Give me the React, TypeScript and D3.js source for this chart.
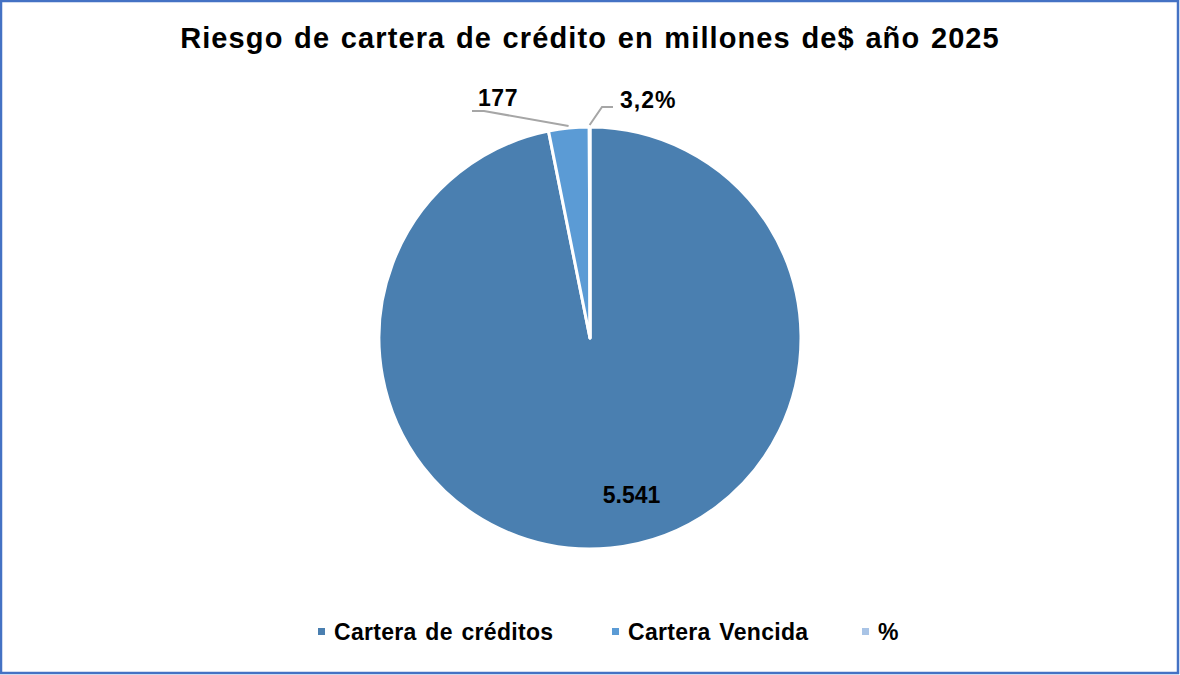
import React, { useEffect, useRef } from 'react';
import * as d3 from 'd3';

// Chart data
const categories = ['Cartera de créditos', 'Cartera Vencida', '%'];
const values = [5541, 177, 3.2];
const valueLabels = ['5.541', '177', '3,2%'];
const colors = ['#4a7fb0', '#5b9bd5', '#a9c4e6'];
const title = 'Riesgo de cartera de crédito en millones de$ año 2025';

const W = 1180;
const H = 675;

export default function App() {
  const ref = useRef<SVGSVGElement>(null);

  useEffect(() => {
    if (!ref.current) return;
    const svg = d3.select(ref.current);
    svg.selectAll('*').remove();

    const font = '"Liberation Sans", Arial, sans-serif';

    // Frame
    svg.append('rect')
      .attr('x', 1).attr('y', 1)
      .attr('width', W - 3).attr('height', H - 3)
      .attr('fill', '#fff')
      .attr('stroke', '#4472c4')
      .attr('stroke-width', 2.5);

    // Title
    svg.append('text')
      .attr('x', 590).attr('y', 48)
      .attr('text-anchor', 'middle')
      .style('font-family', font)
      .style('font-size', '29px')
      .style('font-weight', 'bold')
      .style('letter-spacing', '1.1px')
      .style('word-spacing', '1.5px')
      .text(title);

    const cx = 590, cy = 338, radius = 211;
    const g = svg.append('g').attr('transform', `translate(${cx},${cy})`);

    const data = categories.map((name, i) => ({ name, value: values[i], label: valueLabels[i], color: colors[i] }));
    const pie = d3.pie<any>().value(d => d.value).sort(null);
    const arcs = pie(data);

    const arc = d3.arc<any>().innerRadius(0).outerRadius(radius);

    g.selectAll('path.slice')
      .data(arcs)
      .enter()
      .append('path')
      .attr('class', 'slice')
      .attr('d', arc)
      .attr('fill', d => d.data.color)
      .attr('stroke', '#fff')
      .attr('stroke-width', 3)
      .attr('stroke-linejoin', 'round');

    const mid = (d: any) => (d.startAngle + d.endAngle) / 2;
    const pt = (a: number, r: number): [number, number] => [Math.sin(a) * r, -Math.cos(a) * r];

    // Inside label for the large slice
    const big = arcs[0];
    const [bx, by] = pt(mid(big) - 0.16, radius * 0.77);
    g.append('text')
      .attr('x', bx).attr('y', by)
      .attr('text-anchor', 'middle')
      .attr('dy', '0.35em')
      .style('font-family', font)
      .style('font-size', '23px')
      .style('font-weight', 'bold')
      .text(big.data.label);

    // Outside labels with leader lines
    const outside = [
      { d: arcs[1], side: -1, elbow: [-118, -227], end: [-106, -227], text: [-92, -232] },
      { d: arcs[2], side: 1, elbow: [12, -231], end: [23, -231], text: [30, -230] },
    ];
    outside.forEach(o => {
      const start = pt(mid(o.d), radius + 2);
      const pts = o.side < 0 ? [start, o.end, o.elbow] : [start, o.elbow, o.end];
      g.append('polyline')
        .attr('points', pts.map(p => p.join(',')).join(' '))
        .attr('fill', 'none')
        .attr('stroke', '#a6a6a6')
        .attr('stroke-width', 2);
      g.append('text')
        .attr('x', o.text[0]).attr('y', o.text[1])
        .attr('text-anchor', o.side < 0 ? 'middle' : 'start')
        .style('font-family', font)
        .style('font-size', '23px')
        .style('font-weight', 'bold')
        .style('letter-spacing', o.side < 0 ? '0.5px' : '1px')
        .text(o.d.data.label);
    });

    // Legend
    const legend = svg.append('g');
    const starts = [318, 612, 862];
    data.forEach((d, i) => {
      const item = legend.append('g').attr('transform', `translate(${starts[i]},640)`);
      item.append('rect')
        .attr('x', 0).attr('y', -12)
        .attr('width', 7).attr('height', 7)
        .attr('fill', d.color);
      item.append('text')
        .attr('x', 16).attr('y', 0)
        .style('font-family', font)
        .style('font-size', '23px')
        .style('font-weight', 'bold')
        .style('letter-spacing', '0.3px')
        .style('word-spacing', '2px')
        .text(d.name);
    });
  }, []);

  return (
    <div style={{ position: 'fixed', left: 0, top: 0 }}>
      <svg ref={ref} width={W} height={H} style={{ display: 'block' }} />
    </div>
  );
}
